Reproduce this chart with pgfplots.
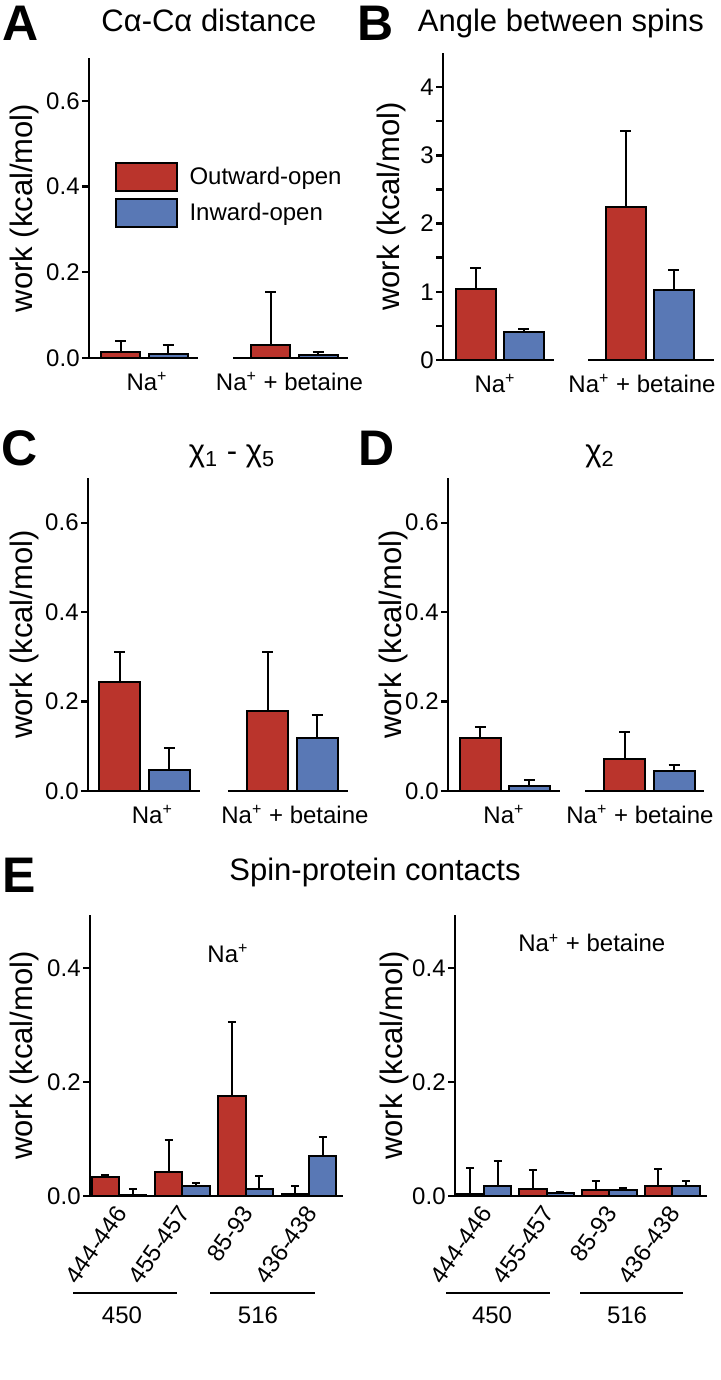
\documentclass[border=0pt]{standalone}
\usepackage{fontspec}
\setmainfont{Liberation Sans}
\usepackage{pgfplots}
\pgfplotsset{compat=1.18}

\definecolor{redc}{RGB}{186,52,44}
\definecolor{bluec}{RGB}{89,120,181}

\newcommand{\tfont}{\fontsize{15.5}{18}\selectfont}
\newcommand{\lfont}{\fontsize{12}{14}\selectfont}
\newcommand{\Na}{Na\textsuperscript{+}}

\pgfplotsset{
  panel/.style={
    scale only axis, ymin=0, enlargelimits=false, clip=false,
    axis lines=left, axis line style={-, line width=1.2pt},
    x axis line style={draw=none},
    xtick style={draw=none},
    ytick style={line width=1.2pt, black},
    tick align=outside, major tick length=3.5pt, minor tick length=3.5pt,
    ytick pos=left,
    tick label style={font=\lfont},
    /pgf/number format/assume math mode=true,
    yticklabel style={inner xsep=1pt, /pgf/number format/.cd, fixed, fixed zerofill, precision=1},
    ylabel={work (kcal/mol)},
  },
  ylab/.style={every axis y label/.style={at={(axis description cs:#1,0.5)}, rotate=90, anchor=base, font=\tfont}},
  errs/.style={error bars/.cd, y dir=plus, y explicit,
    error bar style={line width=1pt, black},
    error mark options={rotate=90, mark size=#1, line width=1pt, black}},
  redbar/.style={ybar, bar shift=0pt, fill=redc, draw=black, line width=1pt},
  bluebar/.style={ybar, bar shift=0pt, fill=bluec, draw=black, line width=1pt},
}
\tikzset{letter/.style={anchor=base, font=\fontsize{25}{27}\selectfont\bfseries}}

\begin{document}
\begin{tikzpicture}
\path[use as bounding box] (0,0) rectangle (360pt,-690pt);

% panel letters and titles
\node[letter] at (10.5pt,-20.5pt) {A};
\node[letter] at (188pt,-20.5pt) {B};
\node[letter] at (10pt,-232.5pt) {C};
\node[letter] at (188.5pt,-232.5pt) {D};
\node[letter] at (9.5pt,-446pt) {E};
\node[anchor=base, font=\tfont] at (104.5pt,-16pt) {Cα-Cα distance};
\node[anchor=base, font=\tfont] at (280.5pt,-16pt) {Angle between spins};
\node[anchor=base, font=\tfont] at (116pt,-230.5pt) {χ\textsubscript{1} - χ\textsubscript{5}};
\node[anchor=base, font=\tfont] at (300pt,-230.5pt) {χ\textsubscript{2}};
\node[anchor=base, font=\tfont] at (187.5pt,-440pt) {Spin-protein contacts};

% A
\begin{axis}[panel, ylab=-0.22, at={(44.5pt,-179pt)}, anchor=south west,
  width=129.5pt, height=150pt, xmin=0.63, xmax=2.357, ymax=0.7,
  ytick={0,0.2,0.4,0.6}, xtick={1.017,1.967}, xticklabels={\Na, \Na{} + betaine},
  legend style={at={(axis description cs:0.097,0.655)}, anchor=north west,
    draw=none, fill=none, inner sep=0pt, row sep=3pt, font=\lfont,
    nodes={inner sep=1pt}, /tikz/every odd column/.append style={column sep=5pt}},
  legend cell align=left,
  legend image code/.code={\draw[#1, line width=1pt] (0pt,-7pt) rectangle (30.5pt,7pt);}]
\addplot[redbar, bar width=19.5pt, errs=2.75pt]
  table[x expr=\thisrow{g}-0.157, y=v, y error=e, row sep=\\]
  {g v e\\ 1 0.015 0.025\\ 2 0.030 0.125\\};
\addlegendentry{Outward-open}
\addplot[bluebar, bar width=19.5pt, errs=2.75pt]
  table[x expr=\thisrow{g}+0.157, y=v, y error=e, row sep=\\]
  {g v e\\ 1 0.010 0.020\\ 2 0.006 0.007\\};
\addlegendentry{Inward-open}
\draw[line width=1.2pt] (axis cs:0.63,0) -- (axis cs:1.357,0);
\draw[line width=1.2pt] (axis cs:1.59,0) -- (axis cs:2.357,0);
\end{axis}

% B
\begin{axis}[panel, ylab=-0.159, at={(221.5pt,-180pt)}, anchor=south west,
  width=135.5pt, height=153.5pt, xmin=0.62, xmax=2.427, ymax=4.5,
  ytick={0,1,2,3,4}, minor ytick={0.5,1.5,2.5,3.5},
  yticklabel style={/pgf/number format/precision=0},
  xtick={0.967,1.947}, xticklabels={\Na, \Na{} + betaine}]
\addplot[redbar, bar width=20pt, errs=2.75pt]
  table[x expr=\thisrow{g}-0.16, y=v, y error=e, row sep=\\]
  {g v e\\ 1 1.04 0.31\\ 2 2.25 1.10\\};
\addplot[bluebar, bar width=20pt, errs=2.75pt]
  table[x expr=\thisrow{g}+0.16, y=v, y error=e, row sep=\\]
  {g v e\\ 1 0.41 0.04\\ 2 1.02 0.30\\};
\draw[line width=1.2pt] (axis cs:0.62,0) -- (axis cs:1.36,0);
\draw[line width=1.2pt] (axis cs:1.587,0) -- (axis cs:2.427,0);
\end{axis}

% C
\begin{axis}[panel, ylab=-0.215, at={(44pt,-395.5pt)}, anchor=south west,
  width=130pt, height=156.5pt, xmin=0.616, xmax=2.376, ymax=0.7,
  ytick={0,0.2,0.4,0.6}, xtick={1.052,2.017}, xticklabels={\Na, \Na{} + betaine}]
\addplot[redbar, bar width=20.5pt, errs=2.75pt]
  table[x expr=\thisrow{g}-0.1675, y=v, y error=e, row sep=\\]
  {g v e\\ 1 0.244 0.066\\ 2 0.179 0.131\\};
\addplot[bluebar, bar width=20.5pt, errs=2.75pt]
  table[x expr=\thisrow{g}+0.1675, y=v, y error=e, row sep=\\]
  {g v e\\ 1 0.047 0.050\\ 2 0.119 0.051\\};
\draw[line width=1.2pt] (axis cs:0.616,0) -- (axis cs:1.374,0);
\draw[line width=1.2pt] (axis cs:1.563,0) -- (axis cs:2.376,0);
\end{axis}

% D
\begin{axis}[panel, ylab=-0.18, at={(224pt,-395.5pt)}, anchor=south west,
  width=128pt, height=156.5pt, xmin=0.606, xmax=2.377, ymax=0.7,
  ytick={0,0.2,0.4,0.6}, xtick={0.993,1.934}, xticklabels={\Na, \Na{} + betaine}]
\addplot[redbar, bar width=20.5pt, errs=2.75pt]
  table[x expr=\thisrow{g}-0.1696, y=v, y error=e, row sep=\\]
  {g v e\\ 1 0.119 0.024\\ 2 0.072 0.060\\};
\addplot[bluebar, bar width=20.5pt, errs=2.75pt]
  table[x expr=\thisrow{g}+0.1696, y=v, y error=e, row sep=\\]
  {g v e\\ 1 0.011 0.014\\ 2 0.045 0.013\\};
\draw[line width=1.2pt] (axis cs:0.606,0) -- (axis cs:1.381,0);
\draw[line width=1.2pt] (axis cs:1.554,0) -- (axis cs:2.377,0);
\end{axis}

% E left
\begin{axis}[panel, ylab=-0.229, at={(45pt,-598pt)}, anchor=south west,
  width=126.5pt, height=140.5pt, xmin=0.542, xmax=4.537, ymax=0.493,
  ytick={0,0.2,0.4}, xtick={1.095,2.095,3.095,4.095},
  xticklabels={444-446, 455-457, 85-93, 436-438},
  xticklabel style={rotate=55, anchor=east}]
\addplot[redbar, bar width=13.75pt, errs=2pt]
  table[x expr=\thisrow{g}-0.217, y=v, y error=e, row sep=\\]
  {g v e\\ 1 0.033 0.003\\ 2 0.042 0.056\\ 3 0.175 0.130\\ 4 0.004 0.014\\};
\addplot[bluebar, bar width=13.75pt, errs=2pt]
  table[x expr=\thisrow{g}+0.217, y=v, y error=e, row sep=\\]
  {g v e\\ 1 0.002 0.011\\ 2 0.017 0.005\\ 3 0.013 0.022\\ 4 0.070 0.033\\};
\draw[line width=1.2pt] (axis cs:0.542,0) -- (axis cs:4.537,0);
\node[font=\lfont] at (axis cs:2.72,0.426) {\Na};
\draw[line width=1.2pt] (axis cs:0.274,-0.170) -- (axis cs:1.916,-0.170);
\draw[line width=1.2pt] (axis cs:2.437,-0.170) -- (axis cs:4.095,-0.170);
\node[font=\lfont] at (axis cs:1.047,-0.209) {450};
\node[font=\lfont] at (axis cs:3.195,-0.209) {516};
\end{axis}

% E right
\begin{axis}[panel, ylab=-0.21, at={(227.5pt,-598pt)}, anchor=south west,
  width=126pt, height=140.5pt, xmin=0.537, xmax=4.558, ymax=0.493,
  ytick={0,0.2,0.4}, xtick={1.095,2.095,3.095,4.095},
  xticklabels={444-446, 455-457, 85-93, 436-438},
  xticklabel style={rotate=55, anchor=east}]
\addplot[redbar, bar width=13.75pt, errs=2pt]
  table[x expr=\thisrow{g}-0.219, y=v, y error=e, row sep=\\]
  {g v e\\ 1 0.003 0.046\\ 2 0.013 0.032\\ 3 0.010 0.016\\ 4 0.017 0.030\\};
\addplot[bluebar, bar width=13.75pt, errs=2pt]
  table[x expr=\thisrow{g}+0.219, y=v, y error=e, row sep=\\]
  {g v e\\ 1 0.017 0.044\\ 2 0.006 0.001\\ 3 0.010 0.004\\ 4 0.017 0.010\\};
\draw[line width=1.2pt] (axis cs:0.537,0) -- (axis cs:4.558,0);
\node[font=\lfont] at (axis cs:2.72,0.444) {\Na{} + betaine};
\draw[line width=1.2pt] (axis cs:0.394,-0.170) -- (axis cs:2.053,-0.170);
\draw[line width=1.2pt] (axis cs:2.532,-0.170) -- (axis cs:4.175,-0.170);
\node[font=\lfont] at (axis cs:1.128,-0.209) {450};
\node[font=\lfont] at (axis cs:3.282,-0.209) {516};
\end{axis}
\end{tikzpicture}
\end{document}
